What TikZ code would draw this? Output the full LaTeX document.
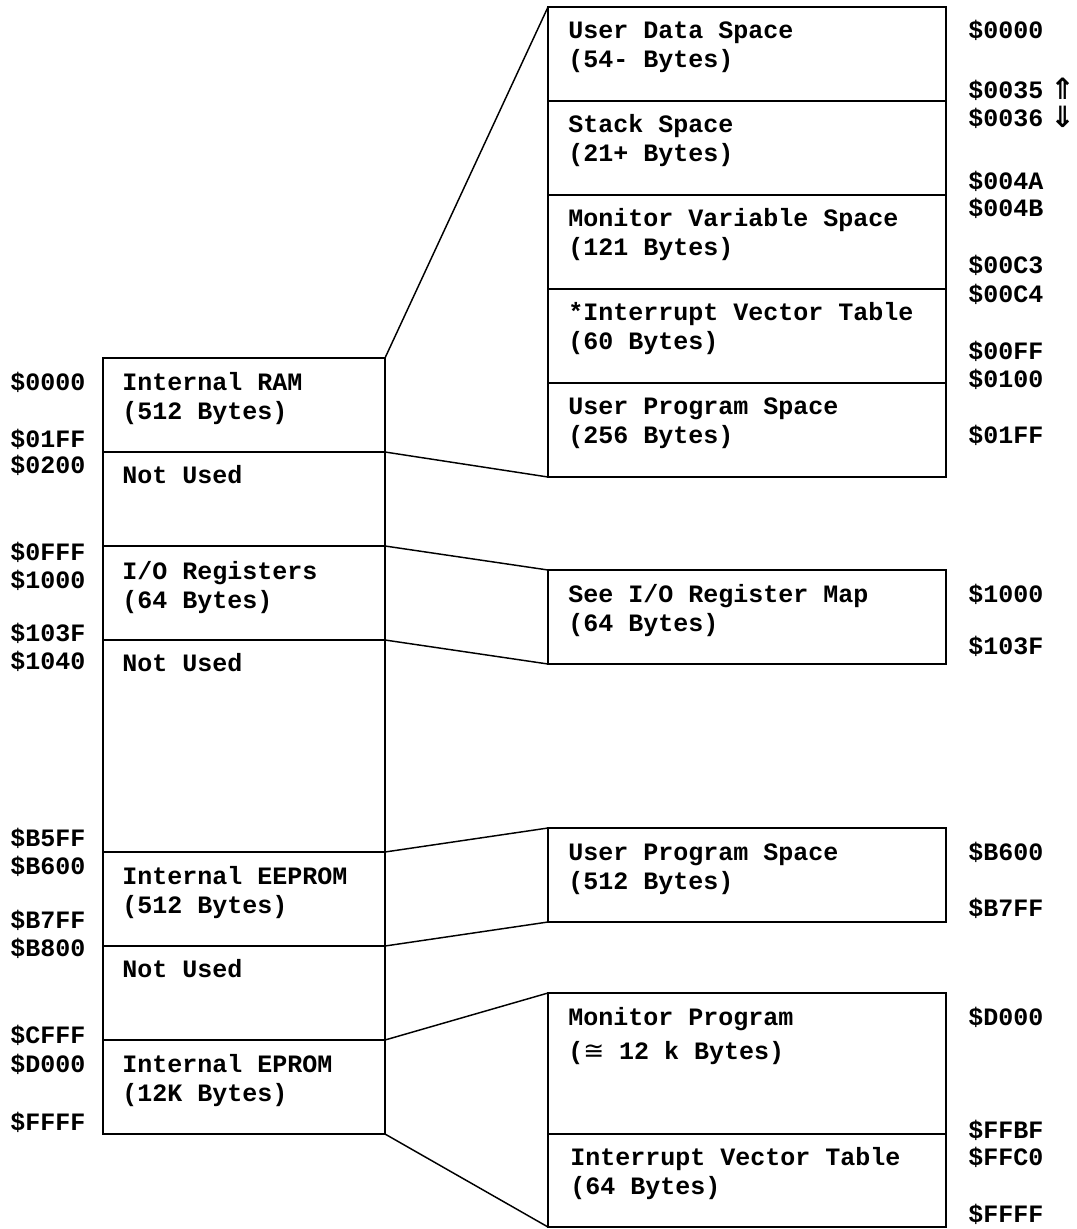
\documentclass[tikz,border=0pt]{standalone}
\usepackage{fontspec}
\setmainfont{Liberation Mono}
\newfontfamily\symfont{DejaVu Sans}
\begin{document}
\begin{tikzpicture}[x=0.75pt,y=-0.75pt,
  lbox/.style={draw, line width=1.1pt, anchor=north west, minimum width=211.5pt, inner sep=0pt, outer sep=0pt},
  rbox/.style={draw, line width=1.1pt, anchor=north west, minimum width=298.5pt, inner sep=0pt, outer sep=0pt},
  txt/.style={anchor=base west, inner sep=0pt, font=\fontsize{18.75}{22}\selectfont\bfseries},
  arr/.style={anchor=base west, inner sep=0pt, font=\fontsize{22}{24}\selectfont\symfont\bfseries},
  link/.style={line width=1.1pt}]
\useasboundingbox (0,0) rectangle (1076,1229);
% left column
\node[lbox, minimum height=70.5pt] (ram) at (103,358) {};
\node[lbox, minimum height=70.5pt] (nu1) at (103,452) {};
\node[lbox, minimum height=70.5pt] (io) at (103,546) {};
\node[lbox, minimum height=159pt] (nu2) at (103,640) {};
\node[lbox, minimum height=70.5pt] (eep) at (103,852) {};
\node[lbox, minimum height=70.5pt] (nu3) at (103,946) {};
\node[lbox, minimum height=70.5pt] (eprom) at (103,1040) {};
% right column
\node[rbox, minimum height=70.5pt] (uds) at (548,7) {};
\node[rbox, minimum height=70.5pt] (stk) at (548,101) {};
\node[rbox, minimum height=70.5pt] (mvs) at (548,195) {};
\node[rbox, minimum height=70.5pt] (ivta) at (548,289) {};
\node[rbox, minimum height=70.5pt] (upsa) at (548,383) {};
\node[rbox, minimum height=70.5pt] (iomap) at (548,570) {};
\node[rbox, minimum height=70.5pt] (upsb) at (548,828) {};
\node[rbox, minimum height=105.75pt] (mon) at (548,993) {};
\node[rbox, minimum height=69.75pt] (ivtb) at (548,1134) {};
% connectors
\draw[link] (ram.north east) -- (uds.north west);
\draw[link] (nu1.north east) -- (upsa.south west);
\draw[link] (io.north east) -- (iomap.north west);
\draw[link] (nu2.north east) -- (iomap.south west);
\draw[link] (eep.north east) -- (upsb.north west);
\draw[link] (nu3.north east) -- (upsb.south west);
\draw[link] (eprom.north east) -- (mon.north west);
\draw[link] (eprom.south east) -- (ivtb.south west);
% left box texts
\node[txt] (t1) at (122,390) {Internal RAM};
\node[txt] (t2) at (122,419) {(512 Bytes)};
\node[txt] (t3) at (122,483) {Not Used};
\node[txt] (t4) at (122,579) {I/O Registers};
\node[txt] (t5) at (122,608) {(64 Bytes)};
\node[txt] (t6) at (122,671) {Not Used};
\node[txt] (t7) at (122,884) {Internal EEPROM};
\node[txt] (t8) at (122,913) {(512 Bytes)};
\node[txt] (t9) at (122,977) {Not Used};
\node[txt] (t10) at (122,1072) {Internal EPROM};
\node[txt] (t11) at (122,1101) {(12K Bytes)};
% left addresses
\node[txt] (a1) at (10,390) {\$0000};
\node[txt] (a2) at (10,447) {\$01FF};
\node[txt] (a3) at (10,473) {\$0200};
\node[txt] (a4) at (10,560) {\$0FFF};
\node[txt] (a5) at (10,588) {\$1000};
\node[txt] (a6) at (10,641) {\$103F};
\node[txt] (a7) at (10,669) {\$1040};
\node[txt] (a8) at (10,846) {\$B5FF};
\node[txt] (a9) at (10,874) {\$B600};
\node[txt] (a10) at (10,928) {\$B7FF};
\node[txt] (a11) at (10,956) {\$B800};
\node[txt] (a12) at (10,1043) {\$CFFF};
\node[txt] (a13) at (10,1072) {\$D000};
\node[txt] (a14) at (10,1130) {\$FFFF};
% right box texts
\node[txt] (r1) at (568,38) {User Data Space};
\node[txt] (r2) at (568,67) {(54- Bytes)};
\node[txt] (r3) at (568,132) {Stack Space};
\node[txt] (r4) at (568,161) {(21+ Bytes)};
\node[txt] (r5) at (568,226) {Monitor Variable Space};
\node[txt] (r6) at (568,255) {(121 Bytes)};
\node[txt] (r7) at (568,320) {*Interrupt Vector Table};
\node[txt] (r8) at (568,349) {(60 Bytes)};
\node[txt] (r9) at (568,414) {User Program Space};
\node[txt] (r10) at (568,443) {(256 Bytes)};
\node[txt] (r11) at (568,602) {See I/O Register Map};
\node[txt] (r12) at (568,631) {(64 Bytes)};
\node[txt] (r13) at (568,860) {User Program Space};
\node[txt] (r14) at (568,889) {(512 Bytes)};
\node[txt] (r15) at (568,1025) {Monitor Program};
\node[txt] (r16) at (568,1059) {({\symfont\mdseries ≅} 12 k Bytes)};
\node[txt] (r17) at (570,1165) {Interrupt Vector Table};
\node[txt] (r18) at (570,1194) {(64 Bytes)};
% right addresses
\node[txt] (b1) at (968,38) {\$0000};
\node[txt] (b2) at (968,98) {\$0035};
\node[arr] (up) at (1050,99) {⇑};
\node[txt] (b3) at (968,126) {\$0036};
\node[arr] (down) at (1050,127) {⇓};
\node[txt] (b4) at (968,189) {\$004A};
\node[txt] (b5) at (968,216) {\$004B};
\node[txt] (b6) at (968,273) {\$00C3};
\node[txt] (b7) at (968,302) {\$00C4};
\node[txt] (b8) at (968,359) {\$00FF};
\node[txt] (b9) at (968,387) {\$0100};
\node[txt] (b10) at (968,443) {\$01FF};
\node[txt] (b11) at (968,602) {\$1000};
\node[txt] (b12) at (968,654) {\$103F};
\node[txt] (b13) at (968,860) {\$B600};
\node[txt] (b14) at (968,916) {\$B7FF};
\node[txt] (b15) at (968,1025) {\$D000};
\node[txt] (b16) at (968,1138) {\$FFBF};
\node[txt] (b17) at (968,1165) {\$FFC0};
\node[txt] (b18) at (968,1222) {\$FFFF};
\end{tikzpicture}
\end{document}
